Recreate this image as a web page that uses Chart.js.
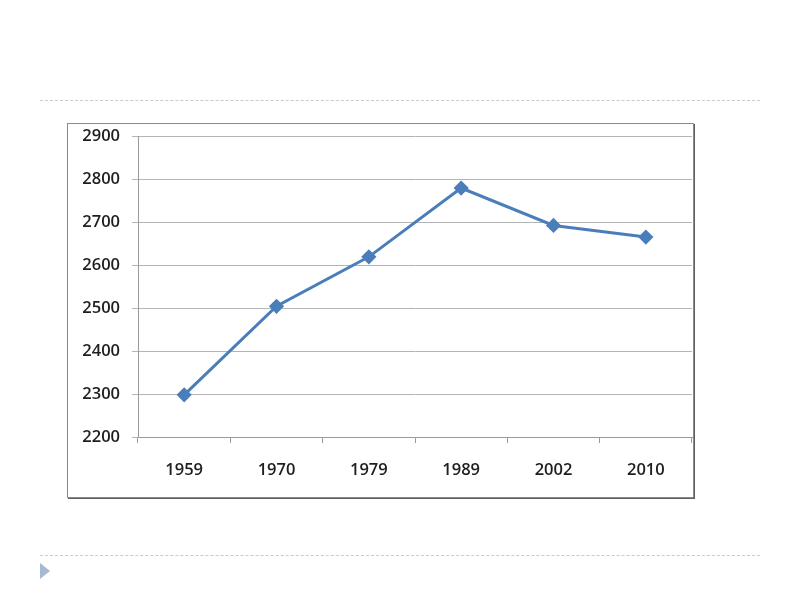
<!DOCTYPE html>
<html>
<head>
<meta charset="utf-8">
<script src="https://cdn.jsdelivr.net/npm/chart.js@4/dist/chart.umd.min.js"></script>
<style>
    html, body { margin: 0; padding: 0; background: #fff; }
    body { width: 800px; height: 600px; position: relative; overflow: hidden; }
    .dots { position: absolute; left: 40px; width: 720px; height: 0; border-top: 1px dashed #c3ccd6; }
    .box {
        position: absolute; left: 67px; top: 123px; width: 625px; height: 373px;
        border: 1px solid #8a8a8a; box-shadow: 1px 1px 0 #5e5e5e; background: #fff;
    }
    .box canvas { position: absolute; left: 0; top: 0; }
    .arrow {
        position: absolute; left: 40px; top: 563px; width: 0; height: 0;
        border-top: 8px solid transparent; border-bottom: 8px solid transparent;
        border-left: 10px solid #a5b9d3;
    }
</style>
</head>
<body>
<div class="dots" style="top:100px"></div>
<div class="dots" style="top:555px"></div>
<div class="arrow"></div>
<div class="box"><canvas id="chart" width="625" height="373"></canvas></div>
<script>
// Values
const years = ['1959', '1970', '1979', '1989', '2002', '2010'];
const population = [2298, 2504, 2619, 2779, 2692, 2665];
const yMin = 2200;
const yMax = 2900;
const yStep = 100;

document.addEventListener('DOMContentLoaded', function() {
    const ctx = document.getElementById('chart').getContext('2d');
    const tickFont = { family: 'Open Sans', size: 16.5, weight: '600' };

    new Chart(ctx, {
        type: 'line',
        data: {
            labels: years,
            datasets: [{
                data: population,
                borderColor: '#4a7ebb',
                backgroundColor: '#4a7ebb',
                borderWidth: 3,
                pointStyle: 'rectRot',
                pointRadius: 5.5,
                pointHoverRadius: 5.5,
                tension: 0,
                fill: false
            }]
        },
        options: {
            responsive: false,
            animation: false,
            events: [],
            layout: { autoPadding: false, padding: 0 },
            plugins: {
                legend: { display: false },
                tooltip: { enabled: false }
            },
            scales: {
                x: {
                    offset: true,
                    grid: {
                        offset: true,
                        drawOnChartArea: false,
                        drawTicks: true,
                        tickLength: 6,
                        color: '#9a9a9a'
                    },
                    border: { color: '#9a9a9a' },
                    ticks: { color: '#1e1e1e', font: tickFont, padding: 17, maxRotation: 0 },
                    afterFit: function(scale) {
                        scale.height = 60;
                        scale.paddingLeft = 0;
                        scale.paddingRight = 1;
                    }
                },
                y: {
                    min: yMin,
                    max: yMax,
                    grid: { color: '#b4b4b4', tickLength: 6 },
                    border: { color: '#9a9a9a' },
                    ticks: {
                        stepSize: yStep,
                        color: '#1e1e1e',
                        font: tickFont,
                        padding: 12,
                        callback: function(value) { return String(value); }
                    },
                    afterFit: function(scale) {
                        scale.width = 70;
                        scale.paddingTop = 12;
                        scale.paddingBottom = 0;
                    }
                }
            }
        }
    });
});
</script>
</body>
</html>
